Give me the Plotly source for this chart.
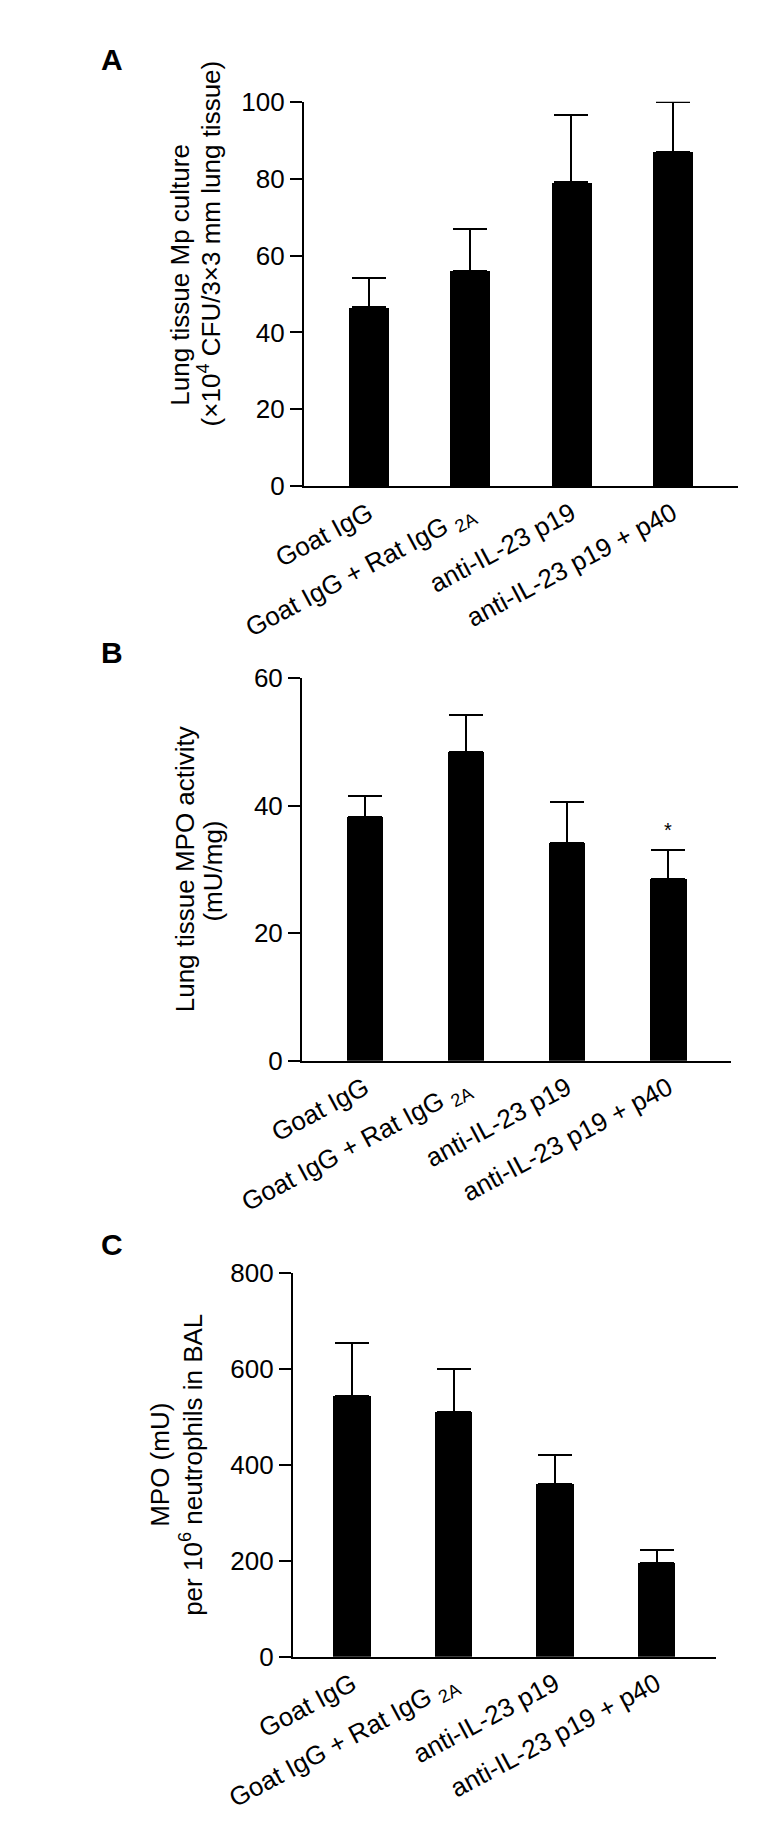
import plotly.graph_objects as go

# ---- data ----
categories_a = ["Goat IgG", "Goat IgG + Rat IgG <sub>2A</sub>", "anti-IL-23 p19", "anti-IL-23 p19 + p40"]
categories_b = ["Goat IgG", "Goat IgG + Rat IgG <sub>2A</sub>", "anti-IL-23 p19", "anti-IL-23 p19 + p40"]
categories_c = ["Goat IgG", "Goat IgG + Rat IgG <sub>2A</sub>", "anti-IL-23 p19", "anti-IL-23 p19 + p40"]

values_a = [46.5, 56, 79, 87]
err_a = [7.7, 11, 17.5, 13]

values_b = [38.2, 48.4, 34.1, 28.5]
err_b = [3.3, 5.8, 6.5, 4.5]

values_c = [544, 511, 361, 196]
err_c = [110, 90, 59, 26]

ticks_a = [0, 20, 40, 60, 80, 100]
ticks_b = [0, 20, 40, 60]
ticks_c = [0, 200, 400, 600, 800]

W, H = 767, 1833
FONT = "Arial, Liberation Sans, Helvetica, sans-serif"

def px_x(p):
    return p / W

def px_y(p):
    return 1 - p / H

fig = go.Figure()

panels = [
    # (suffix, cats, vals, errs, ticks, xrange, xdomain_px, ydomain_px(top,bottom), yrange, barwidth)
    ("", categories_a, values_a, err_a, ticks_a, [-0.64, 3.64], (250, 726), (80, 471), [0, 100], 0.395),
    ("2", categories_b, values_b, err_b, ticks_b, [-0.62, 3.62], (248, 719), (666, 1055), [0, 60], 0.36),
    ("3", categories_c, values_c, err_c, ticks_c, [-0.584, 3.584], (238, 702), (1271, 1661), [0, 800], 0.37),
]

for suf, cats, vals, errs, ticks, xr, xd, yd, yr, bw in panels:
    xs = list(range(len(cats)))
    fig.add_trace(go.Bar(
        x=xs, y=vals, width=bw,
        marker=dict(color="black", line=dict(width=0)),
        error_y=dict(type="data", symmetric=False, array=errs,
                     arrayminus=[0] * len(errs), color="black",
                     thickness=2, width=17),
        xaxis="x" + suf, yaxis="y" + suf, showlegend=False,
    ))
    fig.layout["xaxis" + suf] = dict(
        domain=[px_x(xd[0]), px_x(xd[1])], range=xr, anchor="y" + suf,
        tickmode="array", tickvals=xs, ticktext=cats, tickangle=-28,
        showline=True, linecolor="black", linewidth=2, ticks="",
        showgrid=False, zeroline=False,
        tickfont=dict(family=FONT, size=26, color="black"),
    )
    fig.layout["yaxis" + suf] = dict(
        domain=[px_y(yd[1]), px_y(yd[0])], range=yr, anchor="x" + suf,
        tickmode="array", tickvals=ticks,
        showline=True, linecolor="black", linewidth=2,
        ticks="outside", ticklen=12, tickwidth=2, tickcolor="black",
        showgrid=False, zeroline=False,
        tickfont=dict(family=FONT, size=26, color="black"),
    )

def vtitle(text, xc, yc):
    return dict(text=text, x=px_x(xc), y=px_y(yc), textangle=-90,
                xanchor="center", yanchor="middle", font=dict(size=26))

annotations = [
    dict(text="<b>A</b>", x=px_x(25), y=px_y(37), xanchor="left", yanchor="middle",
         font=dict(size=30)),
    dict(text="<b>B</b>", x=px_x(25), y=px_y(640), xanchor="left", yanchor="middle",
         font=dict(size=30)),
    dict(text="<b>C</b>", x=px_x(25), y=px_y(1242), xanchor="left", yanchor="middle",
         font=dict(size=30)),
    vtitle("Lung tissue Mp culture", 114, 256),
    vtitle("(×10<sup>4</sup> CFU/3×3 mm lung tissue)", 146, 224),
    vtitle("Lung tissue MPO activity", 120, 860),
    vtitle("(mU/mg)", 150, 862),
    vtitle("MPO (mU)", 92, 1466),
    vtitle("per 10<sup>6</sup> neutrophils in BAL", 126, 1466),
    dict(text="*", x=3, y=values_b[3] + err_b[3] + 1.2, xref="x2", yref="y2",
         xanchor="center", yanchor="bottom", font=dict(size=20)),
]
for a in annotations:
    a.setdefault("xref", "paper")
    a.setdefault("yref", "paper")
    a["showarrow"] = False
    a["font"] = dict(family=FONT, color="black", **a["font"])

fig.update_layout(
    width=W, height=H, margin=dict(l=0, r=0, t=0, b=0),
    paper_bgcolor="white", plot_bgcolor="white",
    annotations=annotations, bargap=0,
    font=dict(family=FONT, color="black"),
)

fig.write_html("out.html")
